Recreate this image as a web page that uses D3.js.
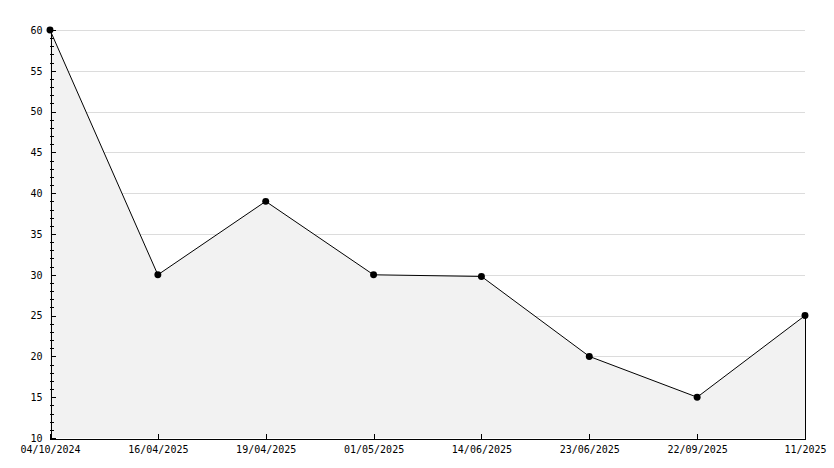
<!DOCTYPE html>
<html>
<head>
<meta charset="utf-8">
<script src="https://cdn.jsdelivr.net/npm/d3@7"></script>
<style>
  html, body { margin: 0; padding: 0; background: #fff; }
  svg { display: block; }
  text { font-family: "DejaVu Sans Mono", monospace; font-size: 10px; fill: #000; }
</style>
</head>
<body>
<svg id="chart" width="834" height="468"></svg>
<script>
const categories = ["04/10/2024", "16/04/2025", "19/04/2025", "01/05/2025", "14/06/2025", "23/06/2025", "22/09/2025", "11/2025"];
const values = [60, 30, 39, 30, 29.8, 20, 15, 25];
const yMajorTicks = [10, 15, 20, 25, 30, 35, 40, 45, 50, 55, 60];
const yMinorTicks = d3.range(10, 61, 1);

(function () {
const svg = d3.select("#chart");
const mLeft = 50, mRight = 805, mTop = 30, mBottom = 438;

const x = d3.scalePoint().domain(categories).range([mLeft, mRight]);
const y = d3.scaleLinear().domain([10, 60]).range([mBottom, mTop]);

const data = categories.map((c, i) => ({ c, v: values[i] }));

// grid lines
svg.append("g").selectAll("line")
  .data(yMajorTicks.filter(t => t !== 10))
  .join("line")
  .attr("x1", mLeft).attr("x2", mRight)
  .attr("y1", d => Math.round(y(d)) + 0.5).attr("y2", d => Math.round(y(d)) + 0.5)
  .attr("stroke", "#dcdcdc").attr("stroke-width", 1)
  .attr("shape-rendering", "crispEdges");

// area
const area = d3.area().x(d => x(d.c)).y0(y(10)).y1(d => y(d.v));
svg.append("path").datum(data)
  .attr("d", area)
  .attr("fill", "#f2f2f2");

// line
const line = d3.line().x(d => x(d.c)).y(d => y(d.v));
svg.append("path").datum(data)
  .attr("d", line)
  .attr("fill", "none")
  .attr("stroke", "#000")
  .attr("stroke-width", 1);

// right edge of area
const last = data[data.length - 1];
svg.append("line")
  .attr("x1", Math.round(x(last.c)) + 0.5).attr("x2", Math.round(x(last.c)) + 0.5)
  .attr("y1", y(last.v)).attr("y2", y(10))
  .attr("stroke", "#000").attr("shape-rendering", "crispEdges");

// Y axis
const yAxis = d3.axisLeft(y).tickValues(yMajorTicks).tickSize(-5).tickPadding(8).tickFormat(d3.format("d"));
const gy = svg.append("g").attr("transform", `translate(${mLeft + 0.5},0)`).call(yAxis);
gy.select(".domain").attr("stroke", "#000").attr("shape-rendering", "crispEdges");
gy.selectAll(".tick line").attr("stroke", "#000").attr("shape-rendering", "crispEdges");
gy.selectAll("text").attr("font-family", "DejaVu Sans Mono").attr("font-size", 10);

// minor ticks
svg.append("g").selectAll("line")
  .data(yMinorTicks.filter(t => !yMajorTicks.includes(t)))
  .join("line")
  .attr("x1", mLeft).attr("x2", mLeft + 4)
  .attr("y1", d => Math.round(y(d)) + 0.5).attr("y2", d => Math.round(y(d)) + 0.5)
  .attr("stroke", "#000").attr("shape-rendering", "crispEdges");

// X axis
const xAxis = d3.axisBottom(x).tickSize(-5).tickPadding(7);
const gx = svg.append("g").attr("transform", `translate(0,${mBottom + 0.5})`).call(xAxis);
gx.select(".domain").attr("stroke", "#000").attr("shape-rendering", "crispEdges");
gx.selectAll(".tick line").attr("stroke", "#000").attr("shape-rendering", "crispEdges");
gx.selectAll("text").attr("font-family", "DejaVu Sans Mono").attr("font-size", 10);

// markers
svg.append("g").selectAll("path")
  .data(data)
  .join("path")
  .attr("transform", d => `translate(${x(d.c)},${y(d.v)})`)
  .attr("d", d3.symbol().type(d3.symbolCircle).size(38))
  .attr("fill", "#000");
})();
</script>
</body>
</html>
